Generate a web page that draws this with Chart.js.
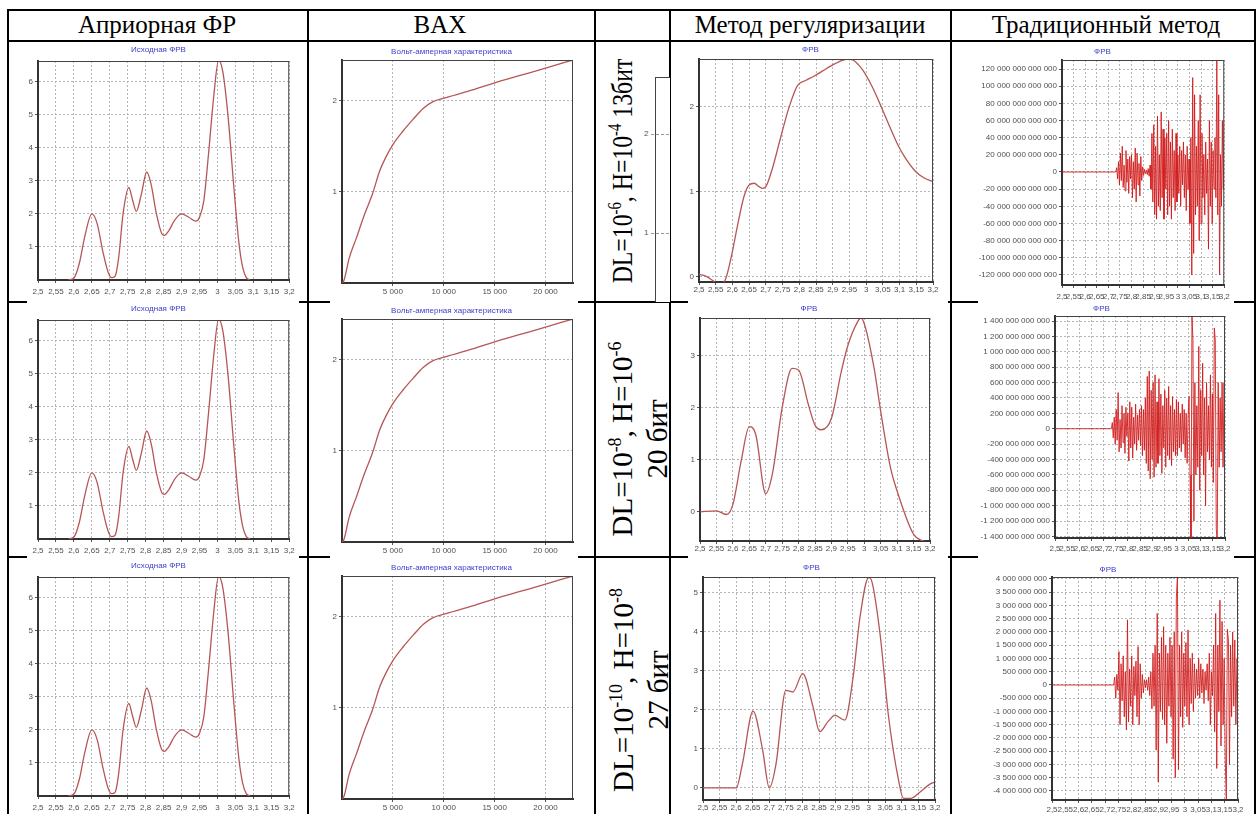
<!DOCTYPE html>
<html><head><meta charset="utf-8">
<script src="https://cdn.jsdelivr.net/npm/chart.js@4.4.0/dist/chart.umd.min.js"></script>
<style>
html,body{margin:0;padding:0;background:#fff;}
#root{position:relative;width:1260px;height:814px;overflow:hidden;background:#fff;font-family:"Liberation Serif","Times New Roman",serif;color:#000;}
.ln{position:absolute;background:#000;}
.hd{position:absolute;top:10px;height:30px;line-height:30px;font-size:25px;white-space:nowrap;transform:translateX(-50%);}
.rot{position:absolute;white-space:nowrap;font-size:29px;text-align:center;line-height:35px;}
.rot sup{font-size:0.62em;vertical-align:0.6em;line-height:0;}
.cb{position:absolute;background:#fff;}
.fr{position:absolute;}
.tk{position:absolute;font:8px Arial,"Liberation Sans",sans-serif;color:#555;}
</style></head>
<body><div id="root"></div>
<script>
// ---------------- DATA ----------------
const headers = ["Априорная ФР", "BAX", "", "Метод регуляризации", "Традиционный метод"];
const rowLabels = [
  "DL=10<sup>-6</sup>, H=10<sup>-4</sup> 13бит",
  "DL=10<sup>-8</sup>, H=10<sup>-6</sup><br>20 бит",
  "DL=10<sup>-10</sup>, H=10<sup>-8</sup><br>27 бит"
];
const titleApriori = "Исходная ФРВ";
const titleBax = "Вольт-амперная характеристика";
const titleFrv = "ФРВ";

const fineXTicks = [2.5, 2.55, 2.6, 2.65, 2.7, 2.75, 2.8, 2.85, 2.9, 2.95, 3, 3.05, 3.1, 3.15, 3.2];

// Исходная ФРВ (same in all rows)
const aprioriX = [2.585, 2.6, 2.615, 2.63, 2.65, 2.665, 2.68, 2.695, 2.705, 2.715, 2.725, 2.737, 2.753, 2.764, 2.774, 2.788, 2.803, 2.815, 2.83, 2.845, 2.852, 2.865, 2.88, 2.9, 2.92, 2.94, 2.95, 2.962, 2.975, 2.99, 3.003, 3.015, 3.03, 3.045, 3.06, 3.07, 3.08, 3.09];
const aprioriY = [0, 0.06, 0.5, 1.3, 2.0, 1.7, 0.9, 0.25, 0.07, 0.12, 0.7, 2.0, 2.8, 2.4, 2.08, 2.6, 3.27, 2.9, 2.0, 1.4, 1.35, 1.5, 1.8, 2.0, 1.9, 1.78, 1.9, 2.4, 3.8, 5.6, 6.65, 6.3, 4.9, 2.9, 1.1, 0.4, 0.08, 0];
const aprioriYTicks = [1, 2, 3, 4, 5, 6];

// ВАХ (same in all rows)
const baxX = [0, 200, 700, 1400, 2200, 3000, 3700, 4300, 5000, 6000, 7000, 8000, 8900, 10000, 12500, 15000, 17500, 20000, 22700];
const baxY = [0, 0.03, 0.27, 0.49, 0.75, 0.98, 1.23, 1.38, 1.52, 1.67, 1.8, 1.92, 1.99, 2.03, 2.11, 2.2, 2.28, 2.36, 2.45];
const baxXTicks = [5000, 10000, 15000, 20000];
const baxYTicks = [1, 2];

// Метод регуляризации
const reg1X = [2.5, 2.52, 2.54, 2.555, 2.565, 2.58, 2.6, 2.615, 2.635, 2.65, 2.665, 2.68, 2.69, 2.7, 2.72, 2.745, 2.77, 2.795, 2.82, 2.845, 2.87, 2.895, 2.92, 2.945, 2.96, 2.98, 2.995, 3.02, 3.045, 3.07, 3.095, 3.12, 3.145, 3.17, 3.2];
const reg1Y = [0.03, 0.01, -0.04, -0.08, -0.09, -0.02, 0.3, 0.6, 0.95, 1.08, 1.1, 1.06, 1.04, 1.06, 1.28, 1.65, 2.0, 2.25, 2.31, 2.36, 2.42, 2.48, 2.53, 2.56, 2.55, 2.48, 2.4, 2.22, 2.0, 1.77, 1.55, 1.38, 1.25, 1.17, 1.12];
const reg1YTicks = [0, 1, 2];

const reg2X = [2.5, 2.55, 2.58, 2.6, 2.625, 2.65, 2.67, 2.7, 2.72, 2.75, 2.78, 2.8, 2.83, 2.85, 2.87, 2.9, 2.93, 2.95, 2.98, 2.99, 3.0, 3.03, 3.05, 3.08, 3.1, 3.15, 3.18, 3.2];
const reg2Y = [0.0, 0.02, -0.05, 0.14, 0.97, 1.64, 1.48, 0.35, 0.72, 2.0, 2.76, 2.73, 2.06, 1.67, 1.58, 1.8, 2.7, 3.2, 3.66, 3.73, 3.62, 2.76, 1.93, 0.84, 0.4, -0.43, -0.56, -0.58];
const reg2YTicks = [0, 1, 2, 3];

const reg3X = [2.5, 2.6, 2.619, 2.651, 2.68, 2.7, 2.72, 2.75, 2.771, 2.801, 2.832, 2.852, 2.877, 2.898, 2.928, 2.953, 2.974, 3.0, 3.01, 3.034, 3.06, 3.09, 3.105, 3.126, 3.156, 3.187, 3.2];
const reg3Y = [0, 0, 0.62, 1.97, 0.97, 0.0, 0.6, 2.5, 2.46, 2.93, 2.08, 1.44, 1.7, 1.86, 1.74, 2.85, 4.4, 5.4, 5.28, 3.96, 1.82, 0.2, -0.27, -0.27, -0.1, 0.11, 0.15];
const reg3YTicks = [0, 1, 2, 3, 4, 5];

// Традиционный метод: flat zero, then oscillation samples from tradX0 with step tradStep
const tradX0 = 2.732, tradStep = 0.004;
const trad1Unit = 1e12; // values in units of 10^12
const trad1Y = [0, 5, -8, 12, -15, 22, -10, 30, -18, 8, -22, 25, -12, 15, -25, 18, -8,
  20, -30, 12, -20, 28, -35, 22, -15, 10, -28, 18, -10, 6,
  -4, 3, -2, 2, -3, 4, -5, 8,
  -20, 45, -35, 55, -50, 30, -55, 65, -40, 20, -45, 70, -30, 50, -55, 40, -20,
  45, -50, 60, -40, 35, -55, 50, -30, 25, -45, 45, -35, 20,
  -25, 30, -40, 25, -15, 35, -30, 20, -45, 30, -20, 15,
  -60, 40, -120, 110, -95, 90, -50, 30,
  -40, 60, -80, 90, -60, 45, -30, 20, -50, 35, -25, 15,
  -90, 60, -40, 35, -60, 25, -20, 40, -30, 130, -50, 90, -120, 20, -40, 60, -20, 60];
const trad1YTicks = [-120, -100, -80, -60, -40, -20, 0, 20, 40, 60, 80, 100, 120];

const trad2Unit = 1e11; // values in units of 10^11
const trad2Y = [0, 0.8, -1.2, 1.5, -2, 2.5, -1.5, 4.7, -3, 1.2, -2.5, 3, -1.8, 2, -3.2, 2.8, -1,
  2, -4.2, 3.5, -2.5, 2.8, -3.8, 1.5, -2, 3.2, -2.8, 1.8, -1.5, 2.5,
  -2.2, 3, -3.5, 2.5, -2.8, 4, -4.5, 6.8,
  -5.5, 7.5, -6.5, 5, -4, 6, -6.3, 7, -5, 3.5, -4.5, 6.5, -3.5, 4.5, -5.8, 3, -2.5,
  5, -5, 4, -3.5, 5.5, -4, 3, -4.8, 4.2, -3, 2.5, -3.5, 3.8,
  -3.5, 3.5, -2.5, 2, -3, 3.2, -2, 2.5, -3.8, 2, -4.5, 1.5,
  4.2, -6, -14.6, 14.7, 11.5, -12, 6, -6,
  3, -5, 10.7, -8, 5, -3.5, 8.5, -6, 4, -10, 6, -3,
  3, -4, 7, -5, 4.5, -7, 13.1, 11.5, -13, -14.6, 6, -5, 4, -3, 6, -5, 6, -2];
const trad2YTicks = [-14, -12, -10, -8, -6, -4, -2, 0, 2, 4, 6, 8, 10, 12, 14];

const trad3Unit = 1e9; // values in units of 10^9
const trad3Y = [0, 0.3, -0.5, 0.4, -0.2, 1.26, -1.5, 0.8, -0.6, 1.1, -1.2, 0.5, -1.7, 2.46, -1.4, 0.6, -0.8,
  1.1, -1.5, 0.7, -0.4, 0.9, -1.2, 1.45, -1.5, 0.8, -0.5, 0.4, -0.3, 0.2,
  -0.1, 0.2, -0.2, 0.3, -0.4, 0.5, -0.9, 1.2,
  -0.8, 1.5, -2.46, 2.7, -3.66, 1.2, -1, 1.8, -1.3, 2.2, -1.5, 1.5, -2.2, 1.2, -0.8, 1.8, -1.2,
  1.5, -2.8, 2, -3.5, 3.28, 4.1, -3.2, 1.5, -1.2, 2, -1.6, 1.2, -0.8,
  1.6, -1.2, 2.08, -1.5, 1, -0.7, 1.2, -1.0, 0.8, -0.5, 0.6, -0.4,
  1, -0.5, 0.8, -0.3, 0.6, -0.7, 0.5, -0.2,
  0.8, -0.6, 1.2, -1.5, 0.5, -0.4, 1.5, -1.77, 2.7, -3.15, 1.5, -1,
  3.2, -2.3, 2.4, -1.5, 1, -2.8, -4.3, 2.1, 1.7, -3, 1.5, -1.2, 2, -0.8, 1.7, -1.5, 1, 0.5];
const trad3YTicks = [-4, -3.5, -3, -2.5, -2, -1.5, -1, -0.5, 0, 0.5, 1, 1.5, 2, 2.5, 3, 3.5, 4];

// ---------------- HELPERS ----------------
const root = document.getElementById('root');
const tickFont = {family: 'Arial, "Liberation Sans", sans-serif', size: 8};
const fmtDec = v => String(Number(v.toFixed(3))).replace('.', ',');
const groupDigits = n => { const s = String(Math.abs(Math.round(n))).replace(/\B(?=(\d{3})+(?!\d))/g, ' '); return (n < 0 ? '-' : '') + s; };
const zip = (xs, ys) => xs.map((x, i) => ({x: x, y: ys[i]}));
const tradPoints = ys => [{x: 2.5, y: 0}].concat(ys.map((v, i) => ({x: tradX0 + i * tradStep, y: v})));

function addLine(l, t, w, h) {
  const d = document.createElement('div'); d.className = 'ln';
  d.style.cssText = `left:${l}px;top:${t}px;width:${w}px;height:${h}px;`;
  root.appendChild(d);
}

const framePlugin = {
  id: 'framePlugin',
  afterDraw(chart) {
    const a = chart.chartArea, ctx = chart.ctx;
    ctx.save(); ctx.strokeStyle = '#444'; ctx.lineWidth = 1; ctx.beginPath();
    ctx.moveTo(a.left, a.top + 0.5); ctx.lineTo(a.right, a.top + 0.5);
    ctx.moveTo(a.right - 0.5, a.top); ctx.lineTo(a.right - 0.5, a.bottom);
    ctx.stroke(); ctx.restore();
  }
};

function makeChart(c) {
  const [bl, bt, bw, bh] = c.box;
  const [pl, pt, pr, pb] = c.plot;
  const div = document.createElement('div'); div.className = 'cb';
  div.style.cssText = `left:${bl}px;top:${bt}px;width:${bw}px;height:${bh}px;`;
  const cv = document.createElement('canvas'); cv.width = bw; cv.height = bh;
  div.appendChild(cv); root.appendChild(div);
  const yW = pl - bl, rp = bl + bw - pr, xH = bt + bh - pb;
  const tc = c.titleY - bt, ptop = pt - bt;
  const padT = Math.max(0, tc - 4.8), padB = Math.max(0, ptop - tc - 4.8);
  const xPad = Math.max(0, c.lblY - pb - 3 - 4.8);
  const gridStyle = {color: '#b5b5b5', lineWidth: 1, tickLength: 3, tickColor: '#555'};
  const borderStyle = {display: true, color: '#333', width: 2, dash: [2, 2]};
  new Chart(cv, {
    type: 'line',
    data: {datasets: [{data: c.points, borderColor: c.color, borderWidth: c.lw, pointRadius: 0, fill: false,
      cubicInterpolationMode: c.smooth ? 'monotone' : 'default', tension: 0}]},
    options: {
      responsive: false, animation: false, devicePixelRatio: 1, events: [],
      layout: {padding: {left: 0, right: rp, top: 0, bottom: 0}},
      plugins: {
        legend: {display: false}, tooltip: {enabled: false},
        title: {display: true, text: c.title, color: '#3c3ccc',
          font: {family: 'Arial, "Liberation Sans", sans-serif', size: 8, weight: 'normal'},
          padding: {top: padT, bottom: padB}}
      },
      scales: {
        x: {type: 'linear', min: c.xMin, max: c.xMax,
          afterBuildTicks: s => { s.ticks = c.xTicks.map(v => ({value: v})); },
          afterFit: s => { s.height = xH; },
          ticks: {autoSkip: false, maxRotation: 0, minRotation: 0, padding: xPad, color: '#505050', font: tickFont, callback: v => c.xFmt(v)},
          grid: gridStyle, border: borderStyle},
        y: {type: 'linear', min: c.yMin, max: c.yMax,
          afterBuildTicks: s => { s.ticks = c.yTicks.map(v => ({value: v})); },
          afterFit: s => { s.width = yW; },
          ticks: {autoSkip: false, padding: 2, color: '#505050', font: tickFont, callback: v => c.yFmt(v)},
          grid: gridStyle, border: borderStyle}
      }
    },
    plugins: [framePlugin]
  });
}

// ---------------- TABLE ----------------
const colX = [7, 307, 594, 669, 950, 1254];
addLine(7, 9, 1249, 2);
addLine(7, 40, 1249, 2);
addLine(7, 301, 1249, 2);
addLine(7, 556, 1249, 2);
colX.forEach(x => addLine(x, 9, 2, 805));

const headerCenters = [157, 440, 632, 810, 1106];
headers.forEach((h, i) => {
  if (!h) return;
  const d = document.createElement('div'); d.className = 'hd';
  d.style.left = headerCenters[i] + 'px'; d.textContent = h; root.appendChild(d);
});

// fragment of an overlapped picture in row 1 of the label column
(function () {
  const f = document.createElement('div'); f.className = 'fr';
  f.style.cssText = 'left:655px;top:77px;width:14px;height:224px;border-left:1px solid #444;border-top:1px solid #444;background:#fff;';
  root.appendChild(f);
  [[134, '2'], [233, '1']].forEach(([y, t]) => {
    const s = document.createElement('div'); s.className = 'tk';
    s.style.cssText += `left:644px;top:${y - 5}px;`; s.textContent = t; root.appendChild(s);
    const g = document.createElement('div'); g.className = 'fr';
    g.style.cssText = `left:651px;top:${y}px;width:18px;height:0;border-top:1px dashed #999;`;
    root.appendChild(g);
  });
})();

const labelPos = [[622, 171, 0.82], [640, 439, 1], [641, 690, 1]];
rowLabels.forEach((html, i) => {
  const [cx, cy, sc] = labelPos[i];
  const d = document.createElement('div'); d.className = 'rot';
  d.innerHTML = html;
  d.style.left = cx + 'px'; d.style.top = cy + 'px';
  d.style.transform = `translate(-50%,-50%) rotate(-90deg) scaleX(${sc})`;
  root.appendChild(d);
});

// ---------------- CHARTS ----------------
const rowTop = [43, 304, 560], rowH = [261, 256, 254], rowOff = [0, 259, 516];
const curveColor = '#b65656', tradColor = 'rgba(208,22,22,0.85)';

for (let r = 0; r < 3; r++) {
  const o = rowOff[r];
  makeChart({box: [27, rowTop[r], 272, rowH[r]], plot: [38, 61 + o, 290, 280 + o], titleY: 50 + o, lblY: 292 + o,
    title: titleApriori, points: zip(aprioriX, aprioriY), color: curveColor, lw: 1.3, smooth: true,
    xMin: 2.5, xMax: 3.2, xTicks: fineXTicks, xFmt: fmtDec, yMin: 0, yMax: 6.63, yTicks: aprioriYTicks, yFmt: fmtDec});
  makeChart({box: [330, rowTop[r], 248, rowH[r]], plot: [342, 60 + o, 573, 283 + o], titleY: 52 + o, lblY: 292 + o,
    title: titleBax, points: zip(baxX, baxY), color: curveColor, lw: 1.3, smooth: true,
    xMin: 0, xMax: 22700, xTicks: baxXTicks, xFmt: groupDigits, yMin: 0, yMax: 2.45, yTicks: baxYTicks, yFmt: fmtDec});
}

makeChart({box: [688, 43, 260, 261], plot: [699, 59, 933, 282], titleY: 50, lblY: 289,
  title: titleFrv, points: zip(reg1X, reg1Y), color: curveColor, lw: 1.3, smooth: true,
  xMin: 2.5, xMax: 3.2, xTicks: fineXTicks, xFmt: fmtDec, yMin: -0.06, yMax: 2.56, yTicks: reg1YTicks, yFmt: fmtDec});
makeChart({box: [688, 304, 260, 256], plot: [700, 318, 930, 541], titleY: 309, lblY: 549,
  title: titleFrv, points: zip(reg2X, reg2Y), color: curveColor, lw: 1.3, smooth: true,
  xMin: 2.5, xMax: 3.2, xTicks: fineXTicks, xFmt: fmtDec, yMin: -0.56, yMax: 3.73, yTicks: reg2YTicks, yFmt: fmtDec});
makeChart({box: [688, 560, 260, 254], plot: [703, 577, 935, 800], titleY: 568, lblY: 808,
  title: titleFrv, points: zip(reg3X, reg3Y), color: curveColor, lw: 1.3, smooth: true,
  xMin: 2.5, xMax: 3.2, xTicks: fineXTicks, xFmt: fmtDec, yMin: -0.31, yMax: 5.41, yTicks: reg3YTicks, yFmt: fmtDec});

makeChart({box: [978, 43, 256, 261], plot: [1062, 60, 1227, 285], titleY: 52, lblY: 297,
  title: titleFrv, points: tradPoints(trad1Y), color: tradColor, lw: 1, smooth: false,
  xMin: 2.5, xMax: 3.2, xTicks: fineXTicks, xFmt: fmtDec, yMin: -131.7, yMax: 130.5, yTicks: trad1YTicks, yFmt: v => groupDigits(v * trad1Unit)});
makeChart({box: [978, 304, 256, 256], plot: [1055, 316, 1225, 538], titleY: 309, lblY: 549,
  title: titleFrv, points: tradPoints(trad2Y), color: tradColor, lw: 1, smooth: false,
  xMin: 2.5, xMax: 3.2, xTicks: fineXTicks, xFmt: fmtDec, yMin: -14.2, yMax: 14.65, yTicks: trad2YTicks, yFmt: v => groupDigits(v * trad2Unit)});
makeChart({box: [978, 560, 268, 254], plot: [1052, 577, 1238, 800], titleY: 570, lblY: 810,
  title: titleFrv, points: tradPoints(trad3Y), color: tradColor, lw: 1, smooth: false,
  xMin: 2.5, xMax: 3.2, xTicks: fineXTicks, xFmt: fmtDec, yMin: -4.34, yMax: 4.075, yTicks: trad3YTicks, yFmt: v => groupDigits(v * trad3Unit)});
</script></body></html>
